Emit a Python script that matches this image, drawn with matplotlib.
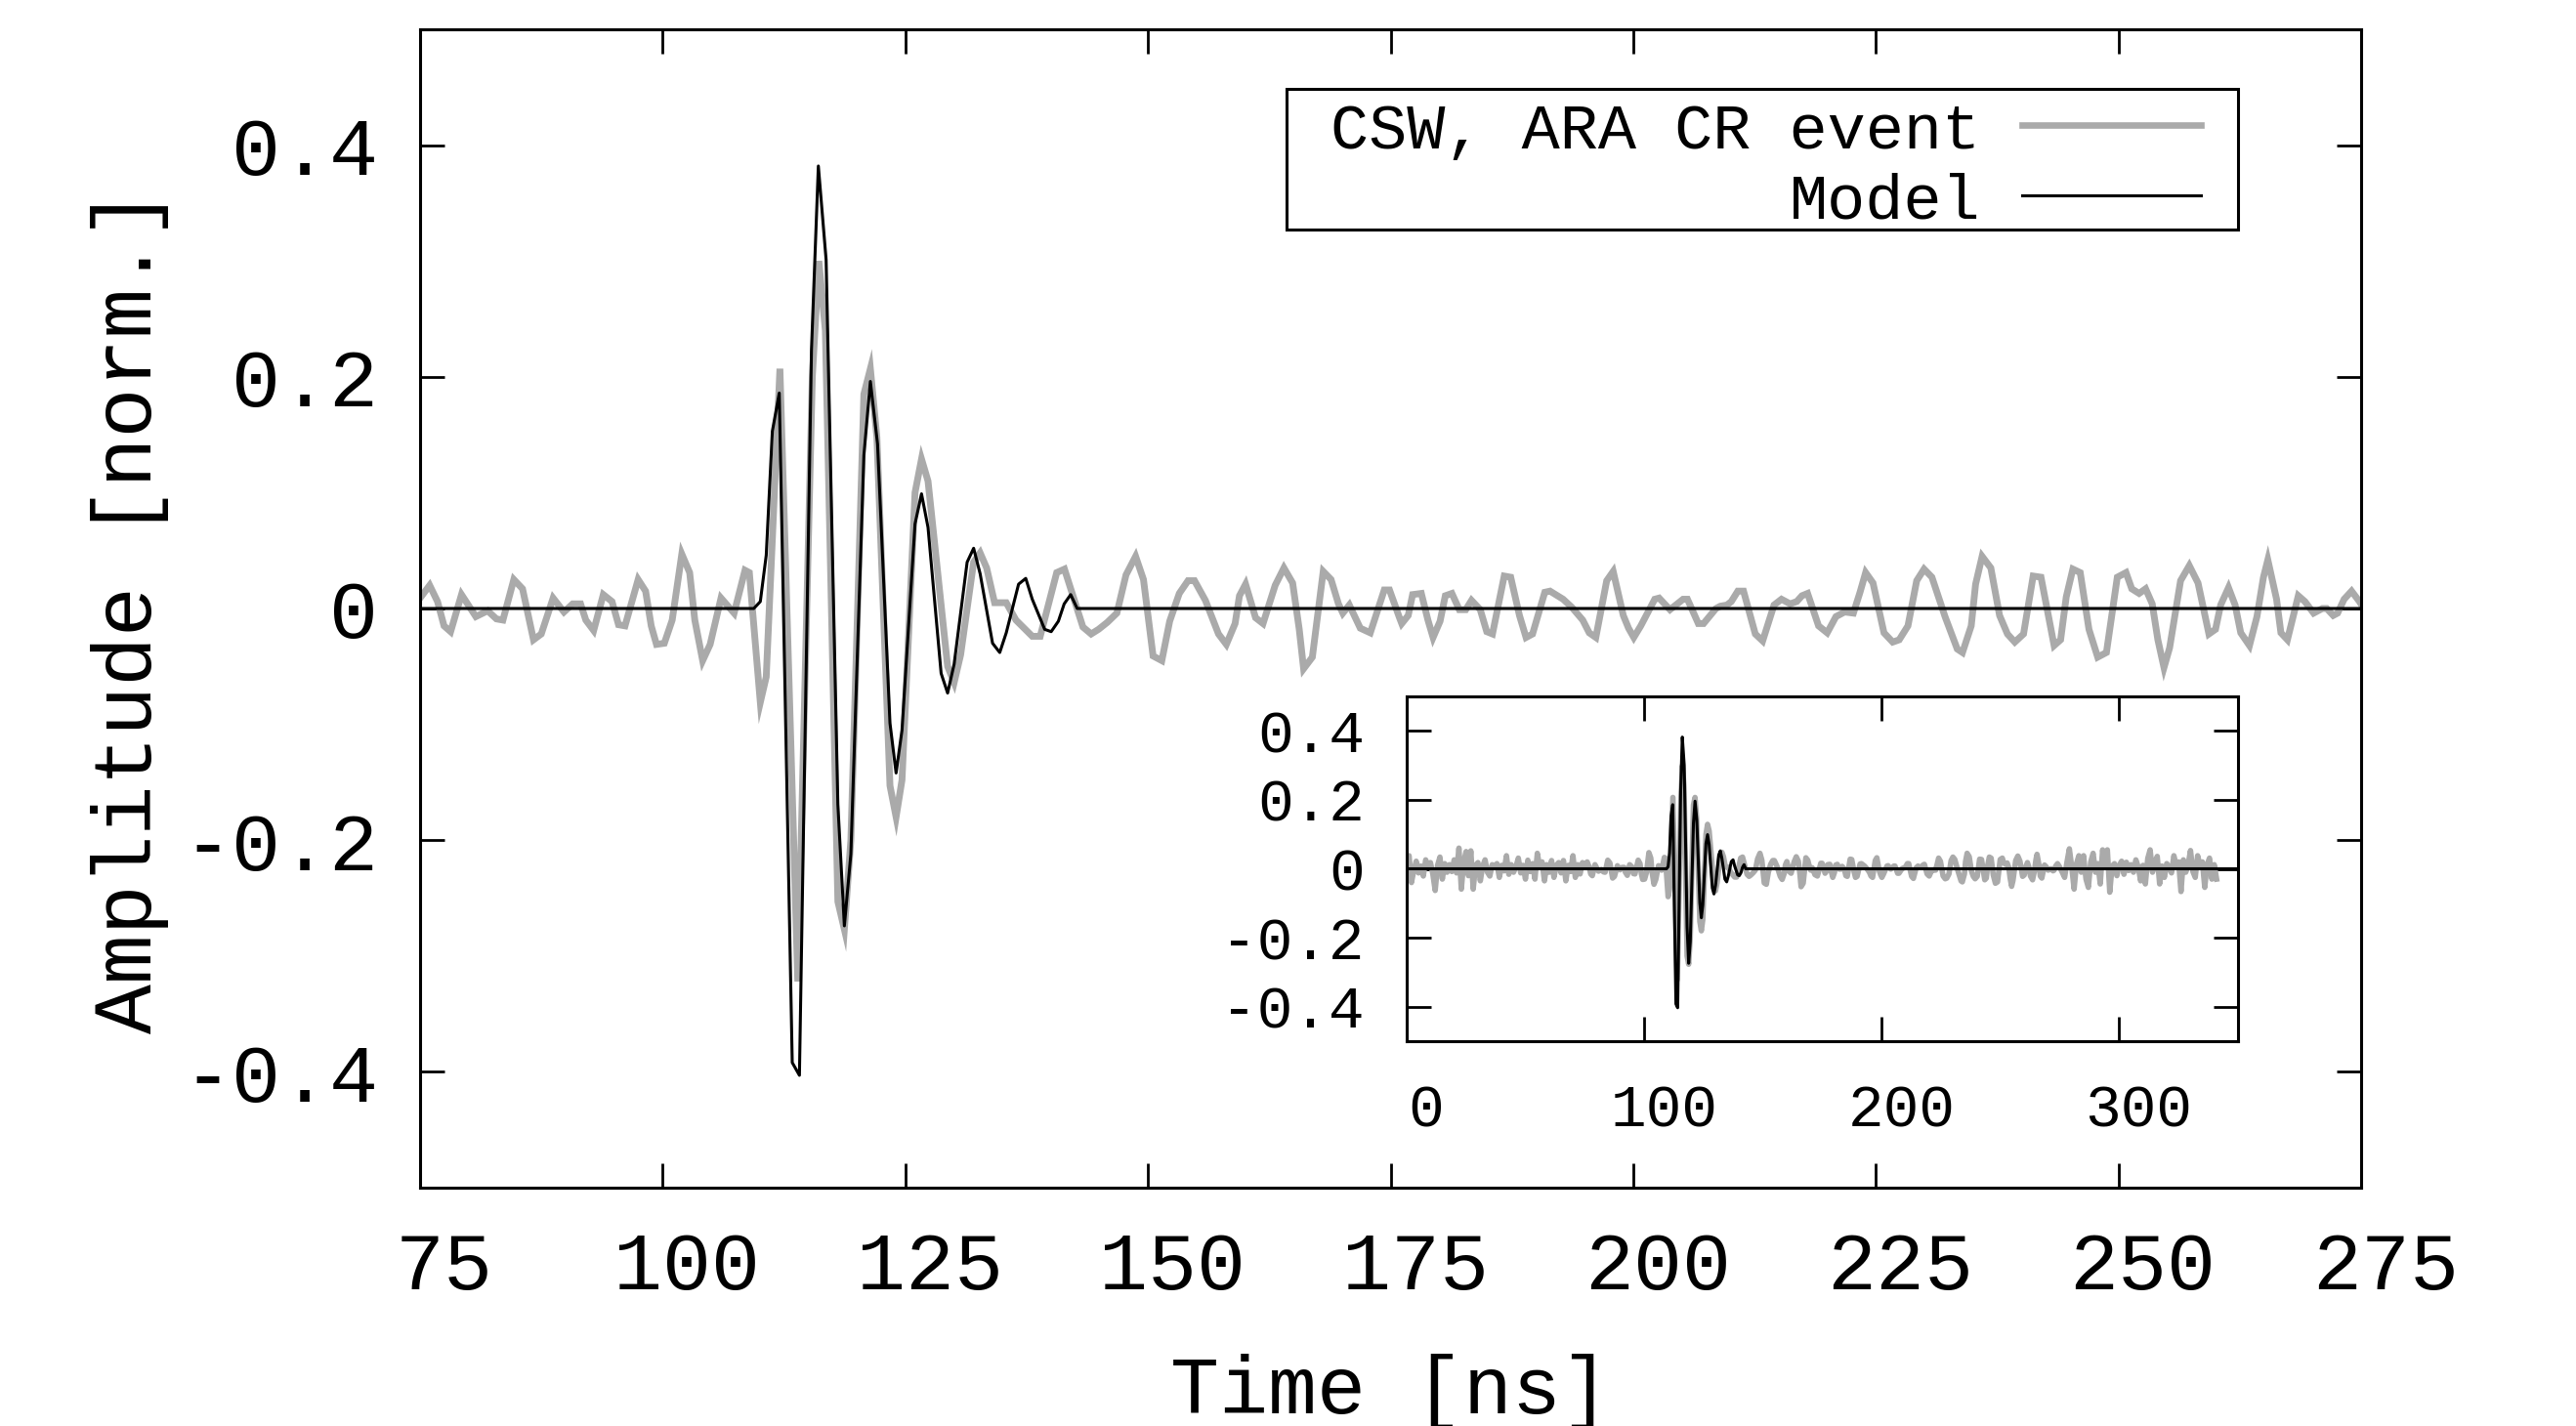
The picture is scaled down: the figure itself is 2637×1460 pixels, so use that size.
import matplotlib
matplotlib.use("Agg")
import matplotlib.pyplot as plt
from matplotlib.lines import Line2D
from matplotlib.patches import Rectangle
from matplotlib.transforms import ScaledTranslation

plt.rcParams["font.family"] = ["Liberation Mono", "DejaVu Sans Mono"]

# CSW of the ARA cosmic-ray event.  time [ns], amplitude [norm.]
# 0-74 ns and 276-341 ns are only visible in the inset, so they are coarser.
csw_pre_t = [0, 1, 2, 3, 4, 5, 6, 7, 8, 9, 10, 11, 12, 13, 14, 15, 16, 17, 18, 19,
             20, 21, 22, 23, 24, 25, 26, 27, 28, 29, 30, 31, 32, 33, 34, 35, 36, 37,
             38, 39, 40, 41, 42, 43, 44, 45, 46, 47, 48, 49, 50, 51, 52, 53, 54, 55,
             56, 57, 58, 59, 60, 61, 62, 63, 64, 65, 66, 67, 68, 69, 70, 71, 72, 73, 74]
csw_pre_v = [0.010, 0.038, -0.040, -0.005, 0.022, -0.012, 0.008, -0.021, 0.026, 0.004,
             0.018, -0.015, -0.063, 0.010, 0.034, -0.030, 0.015, -0.010, 0.012, -0.008,
             0.026, -0.012, 0.060, -0.059, 0.020, 0.050, -0.020, 0.052, -0.059, 0.010,
             0.018, -0.035, 0.008, 0.026, -0.010, -0.021, 0.012, 0.004, 0.015, -0.025,
             0.010, -0.006, 0.038, -0.016, 0.012, -0.010, 0.006, 0.031, -0.012, 0.010,
             -0.030, 0.025, -0.008, 0.015, -0.030, 0.045, 0.005, 0.020, -0.035, 0.012,
             -0.010, 0.024, -0.025, 0.010, 0.018, -0.012, 0.024, -0.035, 0.010, -0.008,
             0.038, -0.025, 0.012, -0.015, 0.018]

csw_t = [75.0, 75.99, 76.8, 77.47, 78.15, 79.27, 80.75, 81.97, 82.87, 83.54, 84.66,
         85.56, 86.69, 87.49, 88.71, 89.83, 90.73, 91.54, 92.08, 92.89, 93.88, 94.78,
         95.45, 96.12, 97.47, 98.24, 98.82, 99.36, 100.17, 100.98, 101.97, 102.78,
         103.31, 104.12, 104.89, 106.01, 107.36, 108.48, 108.93, 110.06, 110.67,
         112.08, 113.92, 115.42, 116.09, 116.76, 118.05, 118.72, 119.39, 120.73,
         121.4, 122.07, 123.42, 124.05, 124.66, 126.0, 126.67, 127.34, 129.36, 130.03,
         130.7, 132.04, 132.71, 133.38, 134.2, 135.4, 136.4, 138.08, 138.9, 140.6,
         141.4, 143.3, 144.15, 144.91, 145.81, 146.8, 147.74, 148.73, 149.54, 150.53,
         151.43, 152.24, 153.23, 154.13, 154.8, 155.92, 157.27, 158.08, 158.98,
         159.43, 160.06, 161.09, 161.86, 163.11, 164.01, 164.91, 165.59, 166.04,
         166.94, 168.06, 168.87, 169.63, 170.08, 170.75, 171.88, 172.91, 174.35,
         174.89, 175.92, 176.15, 176.82, 177.27, 178.17, 178.85, 179.38, 180.1,
         180.64, 181.32, 182.08, 182.75, 183.34, 184.24, 184.91, 185.5, 186.71,
         187.38, 188.28, 188.96, 189.63, 190.89, 191.43, 192.78, 193.68, 194.8,
         195.47, 196.15, 197.27, 197.94, 198.98, 199.52, 200.06, 200.78, 202.22,
         202.67, 203.79, 205.14, 205.59, 206.71, 207.25, 208.53, 208.98, 209.66,
         210.11, 210.78, 211.37, 212.58, 213.34, 214.51, 215.28, 216.17, 216.85,
         217.39, 217.97, 219.1, 219.99, 220.89, 221.79, 222.69, 223.37, 223.95,
         224.71, 225.84, 226.74, 227.41, 228.31, 229.21, 229.97, 230.78, 232.13,
         233.39, 233.93, 234.83, 235.28, 235.95, 236.85, 237.75, 238.56, 239.32,
         240.22, 241.21, 242.02, 243.37, 244.04, 244.62, 245.3, 246.06, 246.96,
         247.86, 248.76, 249.88, 250.78, 251.37, 252.13, 252.8, 253.48, 254.06,
         254.69, 255.27, 256.4, 257.3, 258.2, 259.32, 260.0, 260.53, 261.34, 262.02,
         262.6, 263.5, 264.27, 264.94, 265.39, 266.29, 266.74, 267.41, 268.53,
         269.21, 270.11, 271.01, 271.46, 272.13, 272.58, 273.25, 274.02, 274.83]
csw_v = [0.009, 0.020, 0.006, -0.015, -0.020, 0.012, -0.007, -0.002, -0.009, -0.010,
         0.025, 0.017, -0.027, -0.022, 0.009, -0.003, 0.004, 0.004, -0.010, -0.019,
         0.012, 0.006, -0.014, -0.015, 0.025, 0.015, -0.015, -0.031, -0.030, -0.010,
         0.047, 0.031, -0.010, -0.045, -0.031, 0.009, -0.004, 0.033, 0.031, -0.081,
         -0.059, 0.207, -0.322, 0.200, 0.300, 0.240, -0.253, -0.277, -0.200, 0.185,
         0.207, 0.148, -0.153, -0.180, -0.148, 0.100, 0.129, 0.110, -0.050, -0.064,
         -0.040, 0.040, 0.048, 0.035, 0.005, 0.005, -0.010, -0.024, -0.024, 0.031,
         0.034, -0.016, -0.022, -0.018, -0.012, -0.004, 0.029, 0.045, 0.025, -0.041,
         -0.045, -0.011, 0.013, 0.024, 0.024, 0.007, -0.022, -0.031, -0.013, 0.011,
         0.021, -0.008, -0.013, 0.020, 0.035, 0.022, -0.018, -0.052, -0.042, 0.032,
         0.025, 0.004, -0.004, 0.003, -0.017, -0.021, 0.016, 0.016, -0.008, -0.013,
         -0.006, 0.012, 0.013, -0.010, -0.025, -0.011, 0.011, 0.013, -0.001, -0.001,
         0.007, -0.001, -0.020, -0.022, 0.028, 0.027, -0.006, -0.025, -0.022, 0.014,
         0.015, 0.008, 0.001, -0.010, -0.021, -0.025, 0.024, 0.032, -0.006, -0.017,
         -0.025, -0.015, 0.008, 0.009, -0.001, 0.008, 0.008, -0.013, -0.013, 0.000,
         0.002, 0.003, 0.006, 0.015, 0.015, -0.022, -0.028, 0.003, 0.008, 0.004,
         0.006, 0.011, 0.013, -0.015, -0.021, -0.007, -0.003, -0.004, 0.014, 0.031,
         0.022, -0.021, -0.029, -0.027, -0.015, 0.024, 0.034, 0.027, -0.007, -0.035,
         -0.038, -0.015, 0.021, 0.045, 0.035, -0.006, -0.022, -0.029, -0.022, 0.028,
         0.027, -0.032, -0.027, 0.010, 0.034, 0.031, -0.018, -0.042, -0.038, 0.027,
         0.031, 0.017, 0.013, 0.017, 0.004, -0.027, -0.051, -0.034, 0.024, 0.037,
         0.022, -0.022, -0.018, 0.003, 0.018, 0.003, -0.021, -0.032, -0.007, 0.027,
         0.042, 0.008, -0.021, -0.027, 0.011, 0.006, -0.004, 0.000, 0.000, -0.006,
         -0.004, 0.008, 0.015, 0.006]

csw_post_t = [276, 277, 278, 279, 280, 281, 282, 283, 284, 285, 286, 287, 288, 289,
              290, 291, 292, 293, 294, 295, 296, 297, 298, 299, 300, 301, 302, 303,
              304, 305, 306, 307, 308, 309, 310, 311, 312, 313, 314, 315, 316, 317,
              318, 319, 320, 321, 322, 323, 324, 325, 326, 327, 328, 329, 330, 331,
              332, 333, 334, 335, 336, 337, 338, 339, 340, 341]
csw_post_v = [-0.010, -0.025, 0.020, 0.058, 0.005, -0.059, 0.015, 0.038, -0.010, 0.038,
              -0.030, -0.054, 0.020, 0.045, -0.010, 0.015, -0.044, 0.055, 0.010, 0.055,
              -0.068, 0.008, 0.015, -0.020, 0.010, 0.022, -0.016, 0.019, -0.005, 0.012,
              -0.010, 0.026, 0.005, -0.035, 0.010, -0.044, 0.030, 0.055, -0.010, 0.020,
              0.036, -0.044, 0.008, -0.025, 0.015, 0.005, -0.012, 0.038, 0.010, 0.020,
              -0.066, 0.026, -0.010, 0.012, 0.053, -0.008, -0.025, 0.038, 0.010, 0.020,
              -0.054, 0.012, 0.031, -0.030, 0.012, -0.030]

# model pulse, zero outside the listed samples
model_t = [0.0, 109.39, 110.06, 110.67, 111.30, 112.01, 113.35, 114.09, 115.33, 116.04,
           116.84, 118.05, 118.72, 119.39, 120.73, 121.40, 122.14, 123.42, 124.05,
           124.66, 126.00, 126.67, 127.34, 128.69, 129.36, 130.03, 131.37, 132.04,
           132.71, 133.99, 134.73, 135.40, 136.67, 137.41, 138.08, 139.36, 140.03,
           140.77, 141.37, 142.04, 142.71, 350.0]
model_v = [0.0, 0.0, 0.006, 0.046, 0.153, 0.186, -0.392, -0.403, 0.223, 0.382, 0.301,
           -0.169, -0.274, -0.212, 0.132, 0.196, 0.142, -0.099, -0.142, -0.105, 0.073,
           0.099, 0.070, -0.056, -0.073, -0.048, 0.040, 0.052, 0.030, -0.030, -0.038,
           -0.021, 0.021, 0.026, 0.008, -0.018, -0.020, -0.011, 0.004, 0.012, 0.0, 0.0]

main_xticks = [75, 100, 125, 150, 175, 200, 225, 250, 275]
main_yticks = [-0.4, -0.2, 0.0, 0.2, 0.4]
ytick_labels = ["-0.4", "-0.2", "0", "0.2", "0.4"]
inset_xticks = [0, 100, 200, 300]

GRAY = "#aaaaaa"
W, H = 2637, 1460


def box(l, t, r, b):
    """pixel box (from top-left) -> figure fraction rect"""
    return [l / W, 1 - b / H, (r - l) / W, (b - t) / H]


def style(ax, size, dx_px, ypad):
    for s in ax.spines.values():
        s.set_linewidth(2.2)
    ax.tick_params(direction="in", length=18, width=2.0, top=True, right=True,
                   labelsize=size, pad=ypad)
    off = ScaledTranslation(dx_px / 100, 0, ax.figure.dpi_scale_trans)
    for lab in ax.get_xticklabels():
        lab.set_transform(lab.get_transform() + off)


t_all = csw_pre_t + csw_t + csw_post_t
v_all = csw_pre_v + csw_v + csw_post_v

fig = plt.figure(figsize=(W / 100, H / 100), dpi=100)

ax = fig.add_axes(box(430, 30, 2417, 1216))
ax.plot(t_all, v_all, color=GRAY, lw=5.0, solid_joinstyle="miter")
ax.plot(model_t, model_v, color="black", lw=2.2)
ax.set_xlim(75, 275)
ax.set_ylim(-0.5, 0.5)
ax.set_xticks(main_xticks)
ax.set_yticks(main_yticks)
ax.set_yticklabels(ytick_labels)
style(ax, 60, 25, 31)

fig.text(0.5398, 13 / H, "Time [ns]", ha="center", va="baseline", fontsize=60)
fig.text(0.0505, 1 - 626 / H, "Amplitude [norm.]", rotation=90,
         ha="center", va="center", fontsize=61)

# key, drawn gnuplot style: text right-aligned, sample line after it
fig.add_artist(Rectangle((1317 / W, 1 - 235 / H), 974 / W, 144 / H,
                         transform=fig.transFigure, fill=False, lw=2.2, ec="black"))
fig.text(2027 / W, 1 - 152 / H, "CSW, ARA CR event", ha="right", va="baseline",
         fontsize=47)
fig.text(2027 / W, 1 - 223 / H, "Model", ha="right", va="baseline", fontsize=47)
fig.add_artist(Line2D([2070 / W, 2253 / W], [1 - 128 / H] * 2,
                      transform=fig.transFigure, color=GRAY, lw=4.8))
fig.add_artist(Line2D([2070 / W, 2253 / W], [1 - 200 / H] * 2,
                      transform=fig.transFigure, color="black", lw=2.2))

ins = fig.add_axes(box(1440, 713, 2291, 1066))
ins.plot(t_all, v_all, color=GRAY, lw=4.0)
ins.plot(model_t, model_v, color="black", lw=2.2)
ins.set_xlim(0, 350)
ins.set_ylim(-0.5, 0.5)
ins.set_xticks(inset_xticks)
ins.set_yticks(main_yticks)
ins.set_yticklabels(ytick_labels)
style(ins, 44, 20, 31)

fig.savefig("out.png", dpi=100)
